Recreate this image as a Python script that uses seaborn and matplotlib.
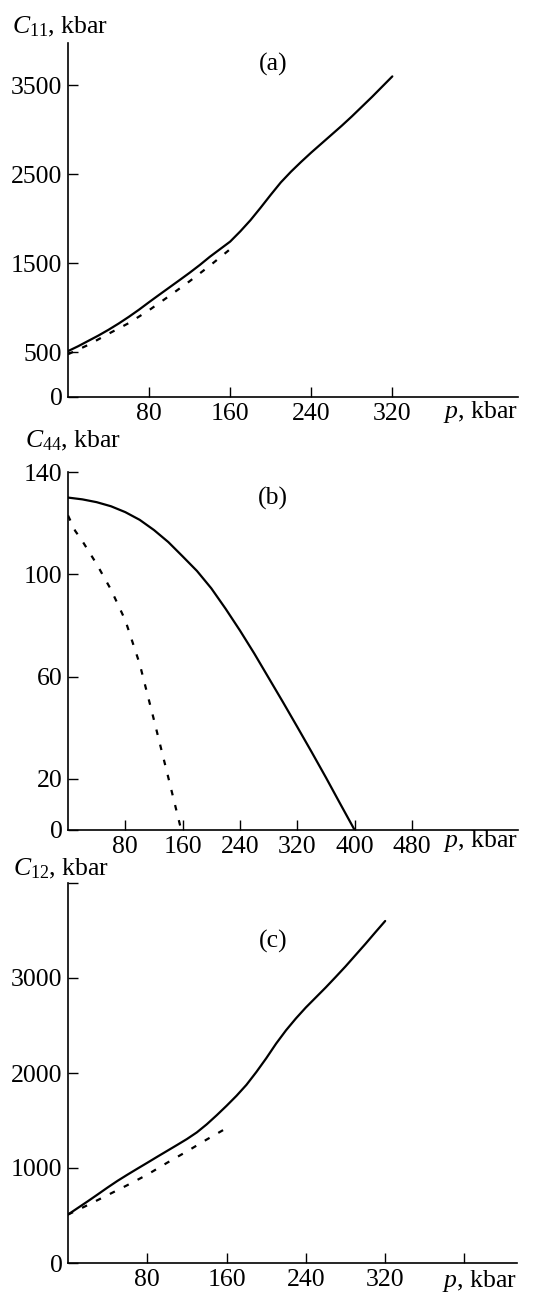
import numpy as np
import pandas as pd
import matplotlib
matplotlib.use("Agg")
import matplotlib.pyplot as plt
import seaborn as sns

# Elastic moduli versus pressure p (kbar): solid = theory, dashed = comparison curve
p_c11_solid = [0, 10, 20, 30, 40, 50, 60, 70, 80, 90, 100, 110, 120, 130, 140, 150, 160,
               170, 180, 190, 200, 210, 220, 230, 240, 250, 260, 270, 280, 290, 300, 310, 320]
c11_solid = [515, 570, 630, 690, 755, 825, 900, 980, 1065, 1148, 1230, 1312, 1395, 1482,
             1575, 1660, 1745, 1860, 1985, 2125, 2270, 2410, 2530, 2640, 2745, 2845, 2945,
             3045, 3150, 3260, 3370, 3485, 3600]
p_c11_dash = [0, 20, 40, 60, 80, 100, 120, 140, 160]
c11_dash = [480, 585, 710, 830, 975, 1135, 1300, 1475, 1660]

p_c44_solid = [0, 20, 40, 60, 80, 100, 120, 140, 160, 180, 200, 220, 240, 260, 280, 300,
               320, 340, 360, 380, 400]
c44_solid = [130, 129.3, 128.2, 126.6, 124.3, 121.3, 117.3, 112.6, 107, 101.3, 94.5, 86.5,
             78, 69, 59.5, 50, 40.3, 30.5, 20.5, 10.2, 0]
p_c44_dash = [0, 10, 20, 40, 60, 80, 100, 120, 140, 158]
c44_dash = [123, 117, 113, 104, 94, 82, 65, 43, 20.5, 0]

p_c12_solid = [0, 10, 20, 30, 40, 50, 60, 70, 80, 90, 100, 110, 120, 130, 140, 150, 160,
               170, 180, 190, 200, 210, 220, 230, 240, 250, 260, 270, 280, 290, 300, 310, 320]
c12_solid = [510, 580, 650, 722, 795, 865, 930, 993, 1055, 1118, 1180, 1242, 1305, 1375,
             1460, 1555, 1655, 1760, 1875, 2010, 2155, 2310, 2450, 2575, 2690, 2795, 2900,
             3010, 3122, 3240, 3358, 3480, 3600]
p_c12_dash = [0, 20, 40, 60, 80, 100, 120, 140, 160]
c12_dash = [510, 610, 715, 820, 930, 1055, 1175, 1300, 1420]

panel_tags = ["(a)", "(b)", "(c)"]
y_titles = [r"$C_{11}$, kbar", r"$C_{44}$, kbar", r"$C_{12}$, kbar"]
x_title = r"$p$, kbar"

xticks_a = [80, 160, 240, 320]
yticks_a = [0, 500, 1500, 2500, 3500]
xticks_b = [80, 160, 240, 320, 400, 480]
yticks_b = [0, 20, 60, 100, 140]
xticks_c = [80, 160, 240, 320, 400]
xticklabels_c = ["80", "160", "240", "320", ""]
yticks_c = [0, 1000, 2000, 3000, 4000]
yticklabels_c = ["0", "1000", "2000", "3000", ""]

sns.set_style("ticks")
plt.rcParams.update({
    "font.family": ["Liberation Serif", "DejaVu Serif"],
    "mathtext.fontset": "custom",
    "mathtext.rm": "Liberation Serif",
    "mathtext.it": "Liberation Serif:italic",
    "text.color": "black",
    "axes.labelcolor": "black",
    "xtick.color": "black",
    "ytick.color": "black",
    "axes.edgecolor": "black",
})

W, H = 548, 1297
fig = plt.figure(figsize=(W / 100, H / 100), dpi=100)


def box(left, top, right, bottom):
    return [left / W, 1 - bottom / H, (right - left) / W, (bottom - top) / H]


ax_a = fig.add_axes(box(68, 43, 518, 397))
ax_b = fig.add_axes(box(68, 472, 518, 830))
ax_c = fig.add_axes(box(68, 883, 517, 1263))

FS = 18.5
LW = 1.6
DASH = (0, (2.5, 4.5))

specs = [
    (ax_a, p_c11_solid, c11_solid, p_c11_dash, c11_dash, (0, 444), (0, 3975),
     xticks_a, [str(v) for v in xticks_a], yticks_a, [str(v) for v in yticks_a],
     0.938, (-56, 10), 21),
    (ax_b, p_c44_solid, c44_solid, p_c44_dash, c44_dash, (0, 628), (0, 140),
     xticks_b, [str(v) for v in xticks_b], yticks_b, [str(v) for v in yticks_b],
     0.927, (-43, 25), 17),
    (ax_c, p_c12_solid, c12_solid, p_c12_dash, c12_dash, (0, 453), (0, 4000),
     xticks_c, xticklabels_c, yticks_c, yticklabels_c,
     0.845, (-55, 8), 24),
]

for i, (ax, xs, ys, xd, yd, xl, yl, xt, xtl, yt, ytl, tag_y, ylab_off, xlab_off) in enumerate(specs):
    sns.lineplot(x=xs, y=ys, ax=ax, color="black", linewidth=LW, sort=False)
    sns.lineplot(x=xd, y=yd, ax=ax, color="black", linewidth=LW, linestyle=DASH, sort=False)
    ax.set_xlim(*xl)
    ax.set_ylim(*yl)
    ax.set_xticks(xt)
    ax.set_xticklabels(xtl)
    ax.set_yticks(yt)
    ax.set_yticklabels(ytl)
    ax.tick_params(direction="in", length=7, width=1.0, labelsize=FS, pad=4)
    ax.set_xlabel("")
    ax.set_ylabel("")
    for s in ("top", "right"):
        ax.spines[s].set_visible(False)
    for s in ("left", "bottom"):
        ax.spines[s].set_linewidth(1.2)
    ax.patch.set_alpha(0)
    ax.text(0.456, tag_y, panel_tags[i], transform=ax.transAxes, ha="center",
            va="center", fontsize=FS)
    ax.annotate(y_titles[i], xy=(0, 1), xycoords="axes fraction",
                xytext=ylab_off, textcoords="offset pixels", ha="left",
                va="baseline", fontsize=FS, annotation_clip=False)
    ax.annotate(x_title, xy=(1, 0), xycoords="axes fraction",
                xytext=(0, -xlab_off), textcoords="offset pixels", ha="right",
                va="baseline", fontsize=FS, annotation_clip=False)

fig.savefig("out.png", dpi=100)
